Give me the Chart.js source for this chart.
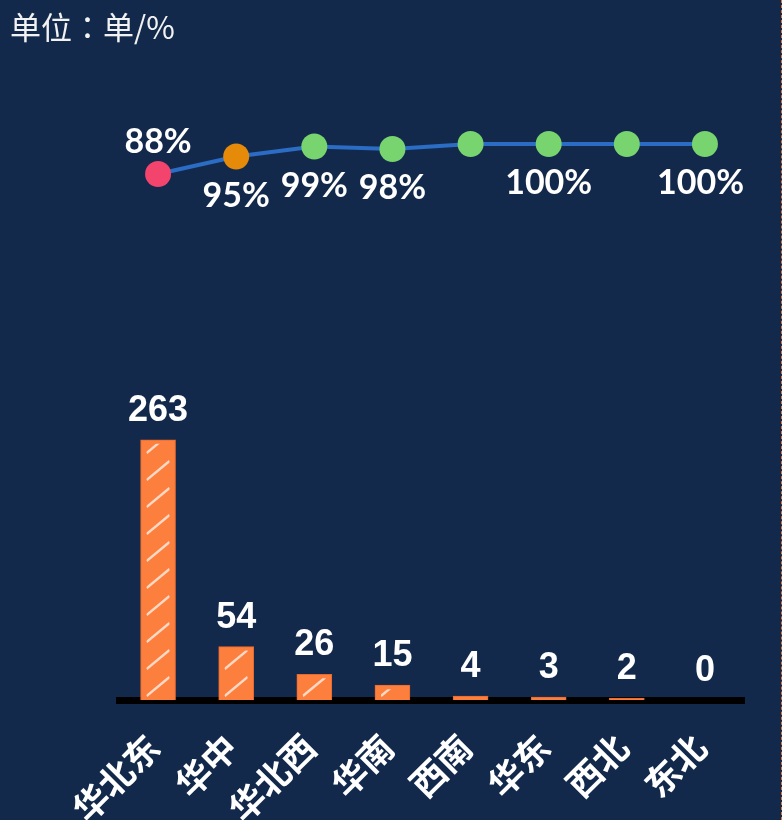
<!DOCTYPE html>
<html>
<head>
<meta charset="utf-8">
<script src="https://cdn.jsdelivr.net/npm/chart.js@4/dist/chart.umd.min.js"></script>
<style>
html, body { margin: 0; padding: 0; background: #13294b; }
#wrap { position: relative; width: 782px; height: 820px; box-sizing: border-box; border-right: 1px dashed #e0783a; }
#unit { position: absolute; left: 10px; top: 3px; color: #f2f2f2; font: 31px "Noto Sans CJK TC"; line-height: 46px; }
canvas { position: absolute; left: 0; top: 0; }
</style>
</head>
<body>
<div id="wrap">
  <canvas id="chart" width="782" height="820"></canvas>
  <div id="unit">单位：单/%</div>
</div>
<script>
const regions = ["华北东", "华中", "华北西", "华南", "西南", "华东", "西北", "东北"];
const orderCounts = [263, 54, 26, 15, 4, 3, 2, 0];
const rates = [88, 95, 99, 98, 100, 100, 100, 100];
// labels that were hidden in the original because they overlapped
const rateLabelShown = [true, true, true, true, false, true, false, true];

const pointColors = rates.map((r, i) => i === 0 ? "#f2446d" : (i === 1 ? "#e68a0a" : "#77d46e"));

// white dashed stripes inside each bar
const stripePlugin = {
  id: "stripes",
  afterDatasetDraw(chart, args) {
    if (args.index !== 0) return;
    const ctx = chart.ctx;
    args.meta.data.forEach((bar) => {
      const p = bar.getProps(["x", "y", "base", "width"], true);
      const left = p.x - p.width / 2 + 6, right = p.x + p.width / 2 - 6;
      const top = p.y + 4, bottom = p.base;
      if (bottom - top < 6) return;
      ctx.save();
      ctx.beginPath();
      ctx.rect(left, top, right - left, bottom - top);
      ctx.clip();
      ctx.strokeStyle = "rgba(255,255,255,0.7)";
      ctx.lineWidth = 2.4;
      for (let y = bottom - 4; y > top - 30; y -= 27) {
        ctx.beginPath();
        ctx.moveTo(left, y);
        ctx.lineTo(right, y - 19);
        ctx.stroke();
      }
      ctx.restore();
    });
  }
};

const valueLabels = {
  id: "valueLabels",
  afterDatasetsDraw(chart) {
    const ctx = chart.ctx;
    ctx.save();
    ctx.fillStyle = "#ffffff";
    ctx.textAlign = "center";
    ctx.textBaseline = "alphabetic";

    ctx.font = "bold 36px 'Liberation Sans', Arial";
    chart.getDatasetMeta(0).data.forEach((bar, i) => {
      ctx.fillText(String(orderCounts[i]), bar.x, bar.y - 19);
    });

    ctx.font = "bold 34px Lato";
    chart.getDatasetMeta(1).data.forEach((pt, i) => {
      if (!rateLabelShown[i]) return;
      const txt = rates[i] + "%";
      const w = ctx.measureText(txt).width;
      const x = Math.min(pt.x, chart.chartArea.right - w / 2);
      const y = i === 0 ? pt.y - 21 : pt.y + 50;
      ctx.fillText(txt, x, y);
    });
    ctx.restore();
  }
};

new Chart(document.getElementById("chart"), {
  type: "bar",
  data: {
    labels: regions,
    datasets: [
      {
        type: "bar",
        data: orderCounts,
        yAxisID: "yBar",
        backgroundColor: "#fd7f3e",
        borderColor: "#e8692e",
        borderWidth: 1,
        barThickness: 35,
        order: 2
      },
      {
        type: "line",
        data: rates,
        yAxisID: "yRate",
        borderColor: "#2b6cc4",
        borderWidth: 4,
        pointRadius: 13,
        pointHoverRadius: 13,
        pointBorderWidth: 0,
        pointBackgroundColor: pointColors,
        tension: 0,
        order: 1
      }
    ]
  },
  options: {
    responsive: false,
    animation: false,
    layout: { padding: { top: 40, left: 119, right: 38, bottom: 0 } },
    plugins: { legend: { display: false }, tooltip: { enabled: false } },
    scales: {
      x: {
        z: 1,
        grid: { display: false, drawTicks: false },
        border: { display: true, color: "#000000", width: 7 },
        ticks: {
          color: "#ffffff",
          font: { family: "'Noto Sans CJK SC'", size: 35, weight: "bold" },
          minRotation: 45,
          maxRotation: 45,
          autoSkip: false,
          labelOffset: -5,
          padding: 26
        },
        afterFit(scale) { scale.height = 120; }
      },
      yBar: { display: false, min: 0, max: 667 },
      yRate: { display: false, min: -122.4, max: 141.6 }
    }
  },
  plugins: [stripePlugin, valueLabels]
});
</script>
</body>
</html>
